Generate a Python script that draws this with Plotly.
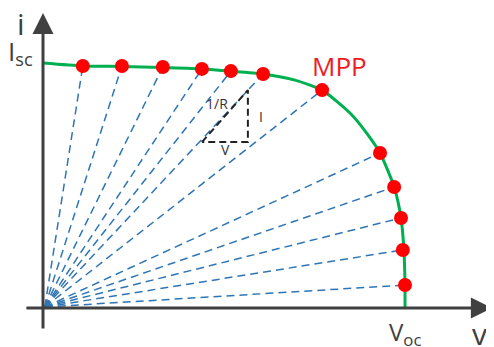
import plotly.graph_objects as go

# normalised units: V / Voc and I / Isc
curve_v = [0.0, 0.110, 0.218, 0.331, 0.439, 0.519, 0.608, 0.696, 0.771, 0.848, 0.892,
           0.931, 0.970, 0.989, 0.997, 1.0, 1.0]
curve_i = [1.004, 0.992, 0.990, 0.986, 0.980, 0.971, 0.959, 0.934, 0.893, 0.799, 0.721,
           0.635, 0.496, 0.369, 0.238, 0.094, 0.0]

dot_v = [0.110, 0.218, 0.331, 0.439, 0.519, 0.608, 0.771, 0.931, 0.970, 0.989, 0.994, 1.0]
dot_i = [0.992, 0.992, 0.988, 0.980, 0.971, 0.959, 0.893, 0.635, 0.496, 0.369, 0.238, 0.094]

tri_v = [0.439, 0.566, 0.566, 0.439]
tri_i = [0.680, 0.893, 0.680, 0.680]

FONT = "Open Sans"
AXIS_COL = "#404040"

fig = go.Figure()

# load lines from the origin to each operating point
ray_x, ray_y = [], []
for v, i in zip(dot_v, dot_i):
    ray_x += [0.005, v, None]
    ray_y += [0.004, i, None]
fig.add_trace(go.Scatter(x=ray_x, y=ray_y, mode="lines",
                         line=dict(color="#2E75B6", width=1.5, dash="8px,5px"),
                         hoverinfo="skip"))

# I-V curve
fig.add_trace(go.Scatter(x=curve_v, y=curve_i, mode="lines",
                         line=dict(color="#00B050", width=3, shape="spline", smoothing=0.6)))

# slope triangle
fig.add_trace(go.Scatter(x=tri_v, y=tri_i, mode="lines",
                         line=dict(color="#222222", width=2, dash="7px,4px")))

fig.add_trace(go.Scatter(x=dot_v, y=dot_i, mode="markers",
                         marker=dict(color="#FF0000", size=14)))

# axes with arrowheads
for x, y, ax, ay in [(0, 1.209, 0, -0.090), (1.240, 0, -0.050, 0)]:
    fig.add_annotation(x=x, y=y, ax=ax, ay=ay, xref="x", yref="y", axref="x", ayref="y",
                       text="", showarrow=True, arrowhead=2, arrowsize=1.4,
                       arrowwidth=3, arrowcolor=AXIS_COL, standoff=0, startstandoff=0)

labels = [
    (-0.061, 1.165, "i", 30, AXIS_COL),
    (-0.061, 1.05, "I<sub>sc</sub>", 26, AXIS_COL),
    (1.0, -0.103, "V<sub>oc</sub>", 24, AXIS_COL),
    (1.207, -0.103, "v", 30, AXIS_COL),
    (0.818, 0.992, "MPP", 26, "#EE1C25"),
    (0.481, 0.840, "1/R", 14, "#333333"),
    (0.602, 0.783, "I", 14, "#333333"),
    (0.503, 0.648, "V", 14, "#333333"),
]
for x, y, t, s, c in labels:
    fig.add_annotation(x=x, y=y, xref="x", yref="y", text=t, showarrow=False,
                       font=dict(family=FONT, size=s, color=c))

# the page body has an 8px margin, so the ranges start 8px into the picture
fig.update_layout(
    width=494, height=347, showlegend=False,
    margin=dict(l=0, r=0, t=0, b=0),
    plot_bgcolor="white", paper_bgcolor="white",
    xaxis=dict(range=[-35 / 362, 459 / 362], visible=False),
    yaxis=dict(range=[-47 / 244, 300 / 244], visible=False),
)

fig.write_html("out.html")
